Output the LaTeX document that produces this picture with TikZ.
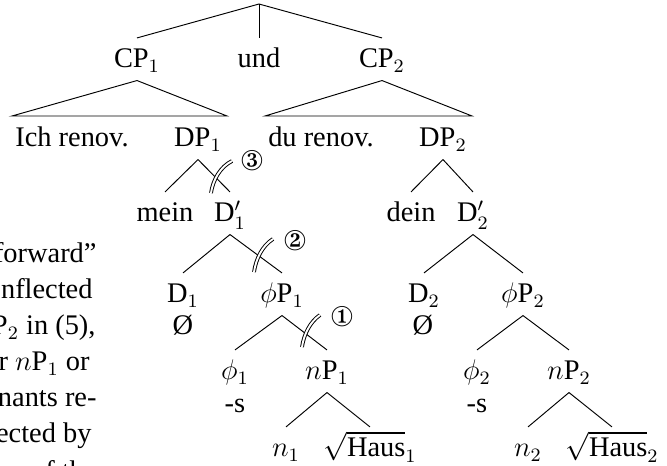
\documentclass[tikz,border=0pt,12pt]{standalone}
\usepackage[no-math]{fontspec}
\setmainfont{Liberation Serif}
\usepackage{pifont}

\begin{document}
\begin{tikzpicture}[x=0.4225pt,y=-0.4225pt,
  lbl/.style={anchor=base, inner sep=0pt, outer sep=0pt,
              text height=12.7pt, text depth=5.3pt},
  cutmark/.style={double, double distance=0.8pt, line width=0.4pt},
  circled/.style={inner sep=0pt, anchor=center},
  prose/.style={anchor=base east, inner sep=0pt}]

\useasboundingbox (0,0) rectangle (667,466);
\clip (0,0) rectangle (667,466);

% running text of the neighbouring column
\node[prose] (l1) at (97,263) {forward”};
\node[prose] (l2) at (93,299) {nflected};
\node[prose] (l3) at (96,335) {P$_2$ in (5),};
\node[prose] (l4) at (90,371) {r $n$P$_1$ or};
\node[prose] (l5) at (97,407) {nants re-};
\node[prose] (l6) at (92,443) {ected by};
\node[prose] (l7) at (97,481) {of the};

% coordination of the two clauses
\coordinate (root) at (259,4);
\node[lbl] (cp1) at (137,68) {CP$_1$};
\node[lbl] (und) at (259,68) {und};
\node[lbl] (cp2) at (382,68) {CP$_2$};
\draw (root) -- (cp1.north);
\draw (root) -- (und.north);
\draw (root) -- (cp2.north);

% abbreviated clauses
\coordinate (t1l) at (12,116);
\coordinate (t1r) at (227,116);
\coordinate (t2l) at (265,116);
\coordinate (t2r) at (472,116);
\draw (cp1.south) -- (t1l) -- (t1r) -- cycle;
\draw (cp2.south) -- (t2l) -- (t2r) -- cycle;
\node[lbl] (ich) at (72,147) {Ich renov.};
\node[lbl] (dp1) at (198,147) {DP$_1$};
\node[lbl] (du)  at (321,147) {du renov.};
\node[lbl] (dp2) at (443,147) {DP$_2$};

% first DP
\node[lbl] (mein) at (165,222) {mein};
\node[lbl] (d1p)  at (230,222) {D$'_1$};
\draw (dp1.south) -- (mein.north);
\draw (dp1.south) -- (d1p.north);
\node[lbl] (d1)    at (183,303) {D$_1$};
\node[lbl] (phip1) at (282,303) {$\phi$P$_1$};
\draw (d1p.south) -- (d1.north);
\draw (d1p.south) -- (phip1.north);
\node[lbl] (null1) at (183,335) {Ø};
\node[lbl] (phi1) at (235,380) {$\phi_1$};
\node[lbl] (np1)  at (327,380) {$n$P$_1$};
\draw (phip1.south) -- (phi1.north);
\draw (phip1.south) -- (np1.north);
\node[lbl] (s1) at (235,413) {-s};
\node[lbl] (n1)    at (286,457) {$n_1$};
\node[lbl] (haus1) at (370,457) {$\sqrt{\mbox{Haus}}_1$};
\draw (np1.south) -- (n1.north);
\draw (np1.south) -- (haus1.north);

% second DP
\node[lbl] (dein) at (411,222) {dein};
\node[lbl] (d2p)  at (473,222) {D$'_2$};
\draw (dp2.south) -- (dein.north);
\draw (dp2.south) -- (d2p.north);
\node[lbl] (d2)    at (424,303) {D$_2$};
\node[lbl] (phip2) at (523,303) {$\phi$P$_2$};
\draw (d2p.south) -- (d2.north);
\draw (d2p.south) -- (phip2.north);
\node[lbl] (null2) at (423,335) {Ø};
\node[lbl] (phi2) at (477,380) {$\phi_2$};
\node[lbl] (np2)  at (569,380) {$n$P$_2$};
\draw (phip2.south) -- (phi2.north);
\draw (phip2.south) -- (np2.north);
\node[lbl] (s2) at (477,413) {-s};
\node[lbl] (n2)    at (528,457) {$n_2$};
\node[lbl] (haus2) at (612,457) {$\sqrt{\mbox{Haus}}_2$};
\draw (np2.south) -- (n2.north);
\draw (np2.south) -- (haus2.north);

% ellipsis sites with their numbers
\draw[cutmark] (211,193) .. controls (213,180) and (220,167) .. (232,161);
\node[circled] (c3) at (252,161) {\ding{174}};
\draw[cutmark] (254,272) .. controls (256,259) and (262,246) .. (273,239);
\node[circled] (c2) at (295,241) {\ding{173}};
\draw[cutmark] (302,347) .. controls (304,334) and (310,322) .. (320,315);
\node[circled] (c1) at (342,317) {\ding{172}};
\end{tikzpicture}
\end{document}
